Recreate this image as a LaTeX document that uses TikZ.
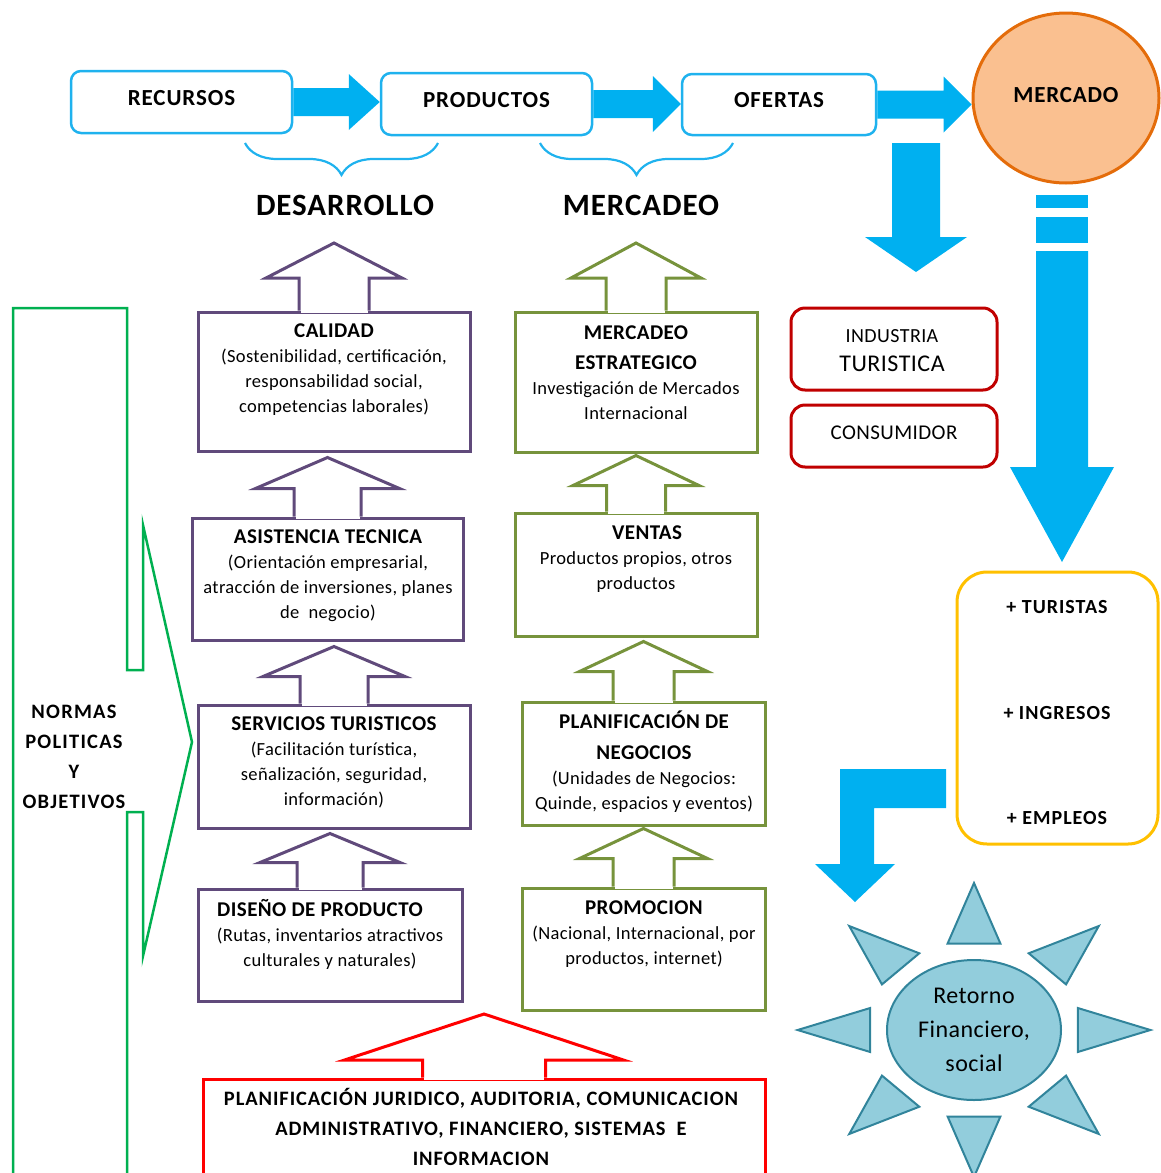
\documentclass[tikz,border=0pt]{standalone}
\usepackage{fontspec}
\setmainfont{Carlito}[LetterSpace=2.0]
\usetikzlibrary{calc,shapes.geometric,decorations.pathreplacing}

\definecolor{cyanarrow}{HTML}{00B0F0}
\definecolor{cyanline}{HTML}{1FB2EE}
\definecolor{purpleline}{HTML}{604A7B}
\definecolor{greenline}{HTML}{77933C}
\definecolor{darkred}{HTML}{C00000}
\definecolor{normgreen}{HTML}{00B050}
\definecolor{gold}{HTML}{FFC000}
\definecolor{peach}{HTML}{FAC090}
\definecolor{orangeline}{HTML}{E46C0A}
\definecolor{sunfill}{HTML}{92CDDC}
\definecolor{sunline}{HTML}{31849B}

\newcommand{\boxtitle}[1]{{\fontsize{21}{25}\selectfont\bfseries #1}}

% block arrow pointing up: style, lower node, tip, head half width, shaft half width, head height
\newcommand{\blockup}[6]{%
  \fill[white] let \p1=(#2.north) in (\x1-#5+1.5pt,\y1-2pt) rectangle (\x1+#5-1.5pt,\y1+2pt);
  \draw[#1] let \p1=(#2.north), \p2=(#3) in
    (\x1-#5,\y1) -- (\x1-#5,\y2-#6) -- (\x1-#4,\y2-#6) -- (\x1,\y2)
    -- (\x1+#4,\y2-#6) -- (\x1+#5,\y2-#6) -- (\x1+#5,\y1);
}
% block arrow pointing right, from node to node
\newcommand{\blockright}[3]{%
  \fill[cyanarrow] let \p1=(#1.east), \p2=(#2.west) in
    (\x1,\y1+14pt) -- (\x2-#3,\y1+14pt) -- (\x2-#3,\y1+28pt) -- (\x2,\y1)
    -- (\x2-#3,\y1-28pt) -- (\x2-#3,\y1-14pt) -- (\x1,\y1-14pt) -- cycle;
}

\begin{document}
\begin{tikzpicture}[x=1pt,y=-1pt]
\path[use as bounding box] (0,0) rectangle (1161,1173);
\clip (0,0) rectangle (1161,1173);
\begin{scope}

\tikzstyle{topbox}=[rectangle, rounded corners=10pt, draw=cyanline, line width=2.5pt,
  fill=white, inner sep=0pt, text depth=9pt,
  font=\fontsize{23}{28}\selectfont\bfseries\addfontfeatures{LetterSpace=4.0}]
\tikzstyle{mercadonode}=[ellipse, draw=orangeline, fill=peach, line width=3pt,
  inner sep=0pt, minimum width=186pt, minimum height=170pt, text depth=6pt,
  font=\fontsize{23}{28}\selectfont\bfseries\addfontfeatures{LetterSpace=3.5}]
\tikzstyle{bigtitle}=[inner sep=0pt, font=\fontsize{31}{36}\selectfont\bfseries\addfontfeatures{LetterSpace=3.0}]
\tikzstyle{pbox}=[rectangle, draw=purpleline, line width=3pt, inner sep=0pt]
\tikzstyle{gbox}=[rectangle, draw=greenline, line width=3pt, inner sep=0pt]
\tikzstyle{rbox}=[rectangle, draw=red, line width=3pt, inner sep=0pt]
\tikzstyle{rrbox}=[rectangle, rounded corners=14pt, draw=darkred, line width=3pt, inner sep=0pt]
\tikzstyle{masbox}=[rectangle, rounded corners=30pt, draw=gold, line width=3pt, inner sep=0pt]
\tikzstyle{boxtxt}=[align=center, inner sep=0pt, font=\fontsize{18.5}{25}\selectfont]
\tikzstyle{parrow}=[draw=purpleline, line width=3pt]
\tikzstyle{garrow}=[draw=greenline, line width=3pt]
\tikzstyle{rarrow}=[draw=red, line width=3pt]
\tikzstyle{brace}=[draw=cyanline, line width=2.2pt, decorate,
  decoration={brace, mirror, amplitude=32pt}]
\tikzstyle{normline}=[draw=normgreen, line width=2.5pt]
\tikzstyle{ray}=[fill=sunfill, draw=sunline, line width=2pt]
\tikzstyle{sunbody}=[ellipse, fill=sunfill, draw=sunline, line width=2pt, inner sep=0pt,
  minimum width=174pt, minimum height=140pt, align=center, font=\fontsize{24}{34}\selectfont]

\coordinate (dtip) at (334,243);
\coordinate (mtip) at (637,243);
\coordinate (rtip) at (484,1014);
\coordinate (b1l) at (245,143);
\coordinate (b1r) at (438,143);
\coordinate (b2l) at (540,143);
\coordinate (b2r) at (733,143);

\node[topbox, minimum width=221pt, minimum height=62pt] (recursos) at (181.5,102) {RECURSOS};
\node[topbox, minimum width=211pt, minimum height=62pt] (productos) at (486.5,104) {PRODUCTOS};
\node[topbox, minimum width=194pt, minimum height=61pt] (ofertas) at (779,104.5) {OFERTAS};
\node[mercadonode] (mercado) at (1066,98) {MERCADO};

\blockright{recursos}{productos}{31pt}
\blockright{productos}{ofertas}{28pt}
\blockright{ofertas}{mercado}{28pt}

\draw[brace] (b1l) -- (b1r);
\draw[brace] (b2l) -- (b2r);

\node[bigtitle] (desarrollo) at (345,205) {DESARROLLO};
\node[bigtitle] (mercadeo) at (641,205) {MERCADEO};

\fill[cyanarrow] (892,143) -- (940,143) -- (940,237) -- (967,237) -- (916,272) -- (865,237) -- (892,237) -- cycle;
\fill[cyanarrow] (1036,195) rectangle (1088,208);
\fill[cyanarrow] (1036,217) rectangle (1088,243);
\fill[cyanarrow] (1036,251) -- (1088,251) -- (1088,467) -- (1114,467) -- (1062,562) -- (1010,467) -- (1036,467) -- cycle;
\fill[cyanarrow] (946,769) -- (840,769) -- (840,864) -- (815,864) -- (855,902) -- (895,864) -- (874,864) -- (874,808) -- (946,808) -- cycle;

\node[rrbox, minimum width=206pt, minimum height=82pt] (industria) at (894,349) {};
\node[boxtxt, font=\fontsize{20}{29}\selectfont] (industriatxt) at (892,350.5) {INDUSTRIA\\{\fontsize{24}{29}\selectfont TURISTICA}};
\node[rrbox, minimum width=206pt, minimum height=62pt] (consumidor) at (894,436) {};
\node[boxtxt, font=\fontsize{21}{25}\selectfont] (consumidortxt) at (894,433) {CONSUMIDOR};

\node[masbox, minimum width=201pt, minimum height=272pt] (mas) at (1057.5,708) {};
\node[boxtxt, font=\fontsize{20}{105.5}\selectfont\bfseries\addfontfeatures{LetterSpace=5.0}] (masitems) at (1057,712.5) {+ TURISTAS\\+ INGRESOS\\+ EMPLEOS};

\draw[normline] (13,1190) -- (13,308) -- (127,308) -- (127,670) -- (143,670) -- (143,525)
  -- (192,742) -- (143,956) -- (143,812) -- (127,812) -- (127,1190);
\node[boxtxt, font=\fontsize{20.5}{30}\selectfont\bfseries\addfontfeatures{LetterSpace=6.0}] (normas) at (74,757) {NORMAS\\POLITICAS\\Y\\OBJETIVOS};

\node[pbox, minimum width=272pt, minimum height=139pt] (calidad) at (334,381.5) {};
\node[pbox, minimum width=271pt, minimum height=122pt] (asistencia) at (327.5,579) {};
\node[pbox, minimum width=272pt, minimum height=123pt] (servicios) at (334,766.5) {};
\node[pbox, minimum width=264pt, minimum height=112pt] (diseno) at (330,945) {};

\node[gbox, minimum width=242pt, minimum height=140pt] (estrategico) at (636,382) {};
\node[gbox, minimum width=242pt, minimum height=123pt] (ventas) at (636,574.5) {};
\node[gbox, minimum width=243pt, minimum height=123pt] (negocios) at (643.5,763.5) {};
\node[gbox, minimum width=243pt, minimum height=122pt] (promocion) at (643.5,949) {};

\node[rbox, minimum width=562pt, minimum height=110pt] (apoyo) at (484,1134) {};

\blockup{parrow}{calidad}{dtip}{68pt}{35pt}{35pt}
\blockup{parrow}{asistencia}{[yshift=-5pt]calidad.south}{72pt}{33.5pt}{31pt}
\blockup{parrow}{servicios}{[yshift=-5pt]asistencia.south}{71pt}{34pt}{30pt}
\blockup{parrow}{diseno}{[yshift=-4pt]servicios.south}{70pt}{33pt}{29pt}
\blockup{garrow}{estrategico}{mtip}{65pt}{30pt}{35pt}
\blockup{garrow}{ventas}{[yshift=-2pt]estrategico.south}{63pt}{29.5pt}{30pt}
\blockup{garrow}{negocios}{[yshift=-4pt]ventas.south}{64pt}{30.5pt}{30pt}
\blockup{garrow}{promocion}{[yshift=-2pt]negocios.south}{64pt}{30.5pt}{30pt}
\blockup{rarrow}{apoyo}{rtip}{139.5pt}{61.5pt}{46pt}

\node[boxtxt] (calidadtxt) at (334,369.5) {\boxtitle{CALIDAD}\\(Sostenibilidad, certificación,\\responsabilidad social,\\competencias laborales)};
\node[boxtxt] (asistenciatxt) at (328,576) {\boxtitle{ASISTENCIA TECNICA}\\(Orientación empresarial,\\atracción de inversiones, planes\\de~~negocio)};
\node[boxtxt] (serviciostxt) at (334,762.5) {\boxtitle{SERVICIOS TURISTICOS}\\(Facilitación turística,\\señalización, seguridad,\\información)};
\node[boxtxt] (disenotxt) at (330,934) {\boxtitle{DISEÑO DE PRODUCTO}\hspace*{20pt}\\(Rutas, inventarios atractivos\\culturales y naturales)};

\node[boxtxt] (estrategicotxt) at (636,373) {\boxtitle{MERCADEO}\\[5pt]\boxtitle{ESTRATEGICO}\\Investigación de Mercados\\Internacional};
\node[boxtxt] (ventastxt) at (636,559) {\hspace*{22pt}\boxtitle{VENTAS}\\Productos propios, otros\\productos};
\node[boxtxt] (negociostxt) at (644,762) {\boxtitle{PLANIFICACIÓN DE}\\[6pt]\boxtitle{NEGOCIOS}\\(Unidades de Negocios:\\Quinde, espacios y eventos)};
\node[boxtxt] (promociontxt) at (644,934) {\boxtitle{PROMOCION}\\(Nacional, Internacional, por\\productos, internet)};

\node[boxtxt, font=\fontsize{20.5}{30}\selectfont\bfseries\addfontfeatures{LetterSpace=4.4}] (apoyotxt) at (481,1127) {PLANIFICACIÓN JURIDICO, AUDITORIA, COMUNICACION\\ADMINISTRATIVO, FINANCIERO, SISTEMAS~~E\\INFORMACION};

\begin{scope}[shift={(974,1030)}, xscale=1.2]
\foreach \ang in {0,45,...,315}
  \filldraw[ray] (\ang:147) -- (\ang+14.27:89.25) -- (\ang-14.27:89.25) -- cycle;
\end{scope}
\node[sunbody] (retorno) at (974,1030) {Retorno\\Financiero,\\social};

\end{scope}
\end{tikzpicture}
\end{document}
